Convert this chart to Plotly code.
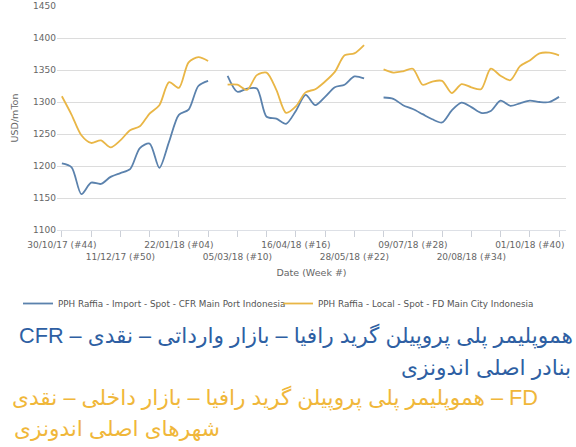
import pandas as pd
import plotly.graph_objects as go

# weekly dates, week #44 2017 onward
weeks = pd.date_range("2017-10-30", periods=52, freq="7D")

import_cfr = [
    1204, 1198, 1156, 1174, 1172, 1183, 1189, 1195, 1228, 1235, 1197, 1238, 1280, 1288, 1325, 1333,
    None,
    1341, 1316, 1321, 1321, 1277, 1274, 1266, 1286, 1311, 1295, 1308, 1323, 1327, 1340, 1337,
    None,
    1307, 1305, 1295, 1289, 1281, 1273, 1268, 1287, 1299, 1292, 1283, 1286, 1302, 1294, 1298,
    1302, 1300, 1300, 1308,
]
local_fd = [
    1309, 1280, 1248, 1236, 1240, 1229, 1240, 1256, 1262, 1282, 1295, 1331, 1322, 1362, 1370, 1364,
    None,
    1327, 1327, 1319, 1342, 1346, 1319, 1283, 1293, 1315, 1320, 1332, 1347, 1373, 1376, 1389,
    None,
    1351, 1346, 1348, 1352, 1327, 1332, 1333, 1314, 1328, 1323, 1320, 1352, 1341, 1334, 1356,
    1365, 1376, 1377, 1373,
]

series_names = [
    "PPH Raffia - Import - Spot - CFR Main Port Indonesia",
    "PPH Raffia - Local - Spot - FD Main City Indonesia",
]
tick_labels = [
    "30/10/17 (#44)", "11/12/17 (#50)", "22/01/18 (#04)", "05/03/18 (#10)", "16/04/18 (#16)",
    "28/05/18 (#22)", "09/07/18 (#28)", "20/08/18 (#34)", "01/10/18 (#40)",
]

BLUE = "#5b82ad"
GOLD = "#e9b646"
BLUE_TEXT = "#2e5fa3"
GOLD_TEXT = "#f0b73a"

# ticks every 3 weeks, labels every 6 weeks on two staggered rows
tickvals, ticktext = [], []
for i in range(0, len(weeks), 3):
    tickvals.append(weeks[i])
    if i % 6 == 0:
        k = i // 6
        ticktext.append(tick_labels[k] if k % 2 == 0 else "<br>" + tick_labels[k])
    else:
        ticktext.append("")

fig = go.Figure()
for name, vals, color, leg in [
    (series_names[0], import_cfr, BLUE, "legend"),
    (series_names[1], local_fd, GOLD, "legend2"),
]:
    fig.add_trace(go.Scatter(
        x=weeks, y=vals, name=name, mode="lines", legend=leg,
        line=dict(color=color, width=1.8, shape="spline", smoothing=0.8),
        connectgaps=False,
    ))

axis_font = dict(family="DejaVu Sans", size=9, color="#666")

fig.update_xaxes(
    range=[weeks[0] - pd.Timedelta(days=3.5), weeks[-1] + pd.Timedelta(days=5)],
    tickvals=tickvals, ticktext=ticktext, tickangle=0,
    ticks="outside", ticklen=6, tickcolor="#ccd0d8",
    showgrid=False, showline=True, linecolor="#dde0e6", linewidth=1,
    tickfont=axis_font,
    title=dict(text="Date (Week #)", font=dict(family="DejaVu Sans", size=9.5, color="#666"), standoff=8),
)
fig.update_yaxes(
    range=[1100, 1450], dtick=50,
    showgrid=True, gridcolor="#dcdcdc", gridwidth=1.3, zeroline=False,
    tickfont=axis_font,
    title=dict(text="USD/mTon", font=dict(family="DejaVu Sans", size=9.5, color="#666"), standoff=12),
)

persian_font = "Liberation Sans, DejaVu Sans"
notes = [
    ("CFR – هموپلیمر پلی پروپیلن گرید رافیا – بازار وارداتی – نقدی", BLUE_TEXT, 575, 336, "right"),
    ("بنادر اصلی اندونزی", BLUE_TEXT, 573, 367, "right"),
    ("هموپلیمر پلی پروپیلن گرید رافیا – بازار داخلی – نقدی – FD", GOLD_TEXT, 10, 398, "left"),
    ("شهرهای اصلی اندونزی", GOLD_TEXT, 12, 428, "left"),
]
L, T, W, H = 57, 6, 509, 224
for text, color, px_x, px_y, anchor in notes:
    fig.add_annotation(
        text=text, xref="paper", yref="paper",
        x=(px_x - L) / W, y=(T + H - px_y) / H,
        xanchor=anchor, yanchor="middle", showarrow=False,
        font=dict(family=persian_font, size=21.7, color=color),
    )

legend_style = dict(
    orientation="h", xref="container", yref="container", xanchor="left", yanchor="middle",
    y=(447 - 303.5) / 447, font=dict(family="DejaVu Sans", size=8.8, color="#555"),
    itemwidth=30, bgcolor="rgba(0,0,0,0)",
)

fig.update_layout(
    width=576, height=447,
    margin=dict(l=L, r=576 - L - W, t=T, b=447 - T - H, autoexpand=False),
    plot_bgcolor="white", paper_bgcolor="white",
    showlegend=True,
    legend=dict(legend_style, x=18 / 576),
    legend2=dict(legend_style, x=278 / 576),
)

fig.write_html(
    "out.html",
    config={"displayModeBar": False},
    post_script="document.body.style.margin='0';",
)
